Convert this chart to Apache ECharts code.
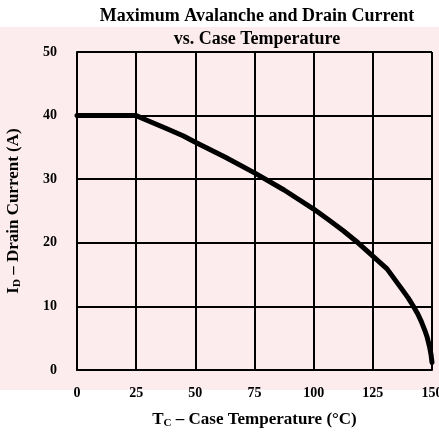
<!DOCTYPE html>
<html>
<head>
<meta charset="utf-8">
<script src="https://cdn.jsdelivr.net/npm/echarts@6/dist/echarts.min.js"></script>
<style>html,body{margin:0;padding:0;background:#fff}#c{width:439px;height:437px}</style>
</head>
<body>
<div id="c"></div>
<script>
var temperatures = [0, 25, 30, 37.5, 45, 50, 62.5, 75, 87.5, 100, 106, 112.5, 118.75, 125, 131, 137.5, 140, 142, 144, 145.5, 147, 148, 149, 149.6, 150];
var drainCurrent = [40, 40, 39.2, 38, 36.8, 35.8, 33.5, 31, 28.3, 25.3, 23.7, 21.9, 20, 17.9, 15.9, 12.6, 11.3, 10.1, 8.8, 7.6, 6.2, 5.1, 3.6, 2.4, 1.2];
var xTicks = [0, 25, 50, 75, 100, 125, 150];
var yTicks = [0, 10, 20, 30, 40, 50];

var font = '"Liberation Serif", "DejaVu Serif", serif';
var chart = echarts.init(document.getElementById('c'));
var subRich = {
  m: { fontFamily: font, fontSize: 17, fontWeight: 'bold', color: '#000' },
  s: { fontFamily: font, fontSize: 11, fontWeight: 'bold', color: '#000', verticalAlign: 'bottom', padding: [7, 0, 0, 0] }
};
chart.setOption({
  animation: false,
  backgroundColor: '#ffffff',
  graphic: [{
    type: 'rect', silent: true, z: -10,
    shape: { x: 0, y: 27, width: 439, height: 363 },
    style: { fill: '#fcecee' }
  }],
  title: {
    text: 'Maximum Avalanche and Drain Current\nvs. Case Temperature',
    left: 252, top: 0, textAlign: 'center',
    textStyle: { fontFamily: font, fontSize: 18, fontWeight: 'bold', color: '#000', lineHeight: 23 }
  },
  grid: { left: 77, right: 7, top: 52, bottom: 67, containLabel: false, outerBoundsMode: 'none' },
  xAxis: {
    type: 'value', min: 0, max: 150, interval: 25,
    name: '{m|T}{s|C}{m| – Case Temperature (°C)}',
    nameLocation: 'middle', nameGap: 41,
    nameTextStyle: { rich: subRich },
    axisLine: { show: true, lineStyle: { color: '#000', width: 2 } },
    axisTick: { show: false },
    axisLabel: { fontFamily: font, fontSize: 14, fontWeight: 'bold', color: '#000', margin: 16,
      formatter: function (v) { return xTicks.indexOf(v) >= 0 ? String(v) : ''; } },
    splitLine: { show: true, lineStyle: { color: '#000', width: 2 } }
  },
  yAxis: {
    type: 'value', min: 0, max: 50, interval: 10,
    name: '{m|I}{s|D}{m| – Drain Current (A)}',
    nameLocation: 'middle', nameGap: 54,
    nameTextStyle: { rich: subRich },
    axisLine: { show: true, lineStyle: { color: '#000', width: 2 } },
    axisTick: { show: false },
    axisLabel: { fontFamily: font, fontSize: 14, fontWeight: 'bold', color: '#000', margin: 20,
      formatter: function (v) { return yTicks.indexOf(v) >= 0 ? String(v) : ''; } },
    splitLine: { show: true, lineStyle: { color: '#000', width: 2 } }
  },
  series: [{
    type: 'line', smooth: false, symbol: 'none',
    data: temperatures.map(function (t, i) { return [t, drainCurrent[i]]; }),
    lineStyle: { color: '#000', width: 5, join: 'round', cap: 'round' }
  }]
});
</script>
</body>
</html>
